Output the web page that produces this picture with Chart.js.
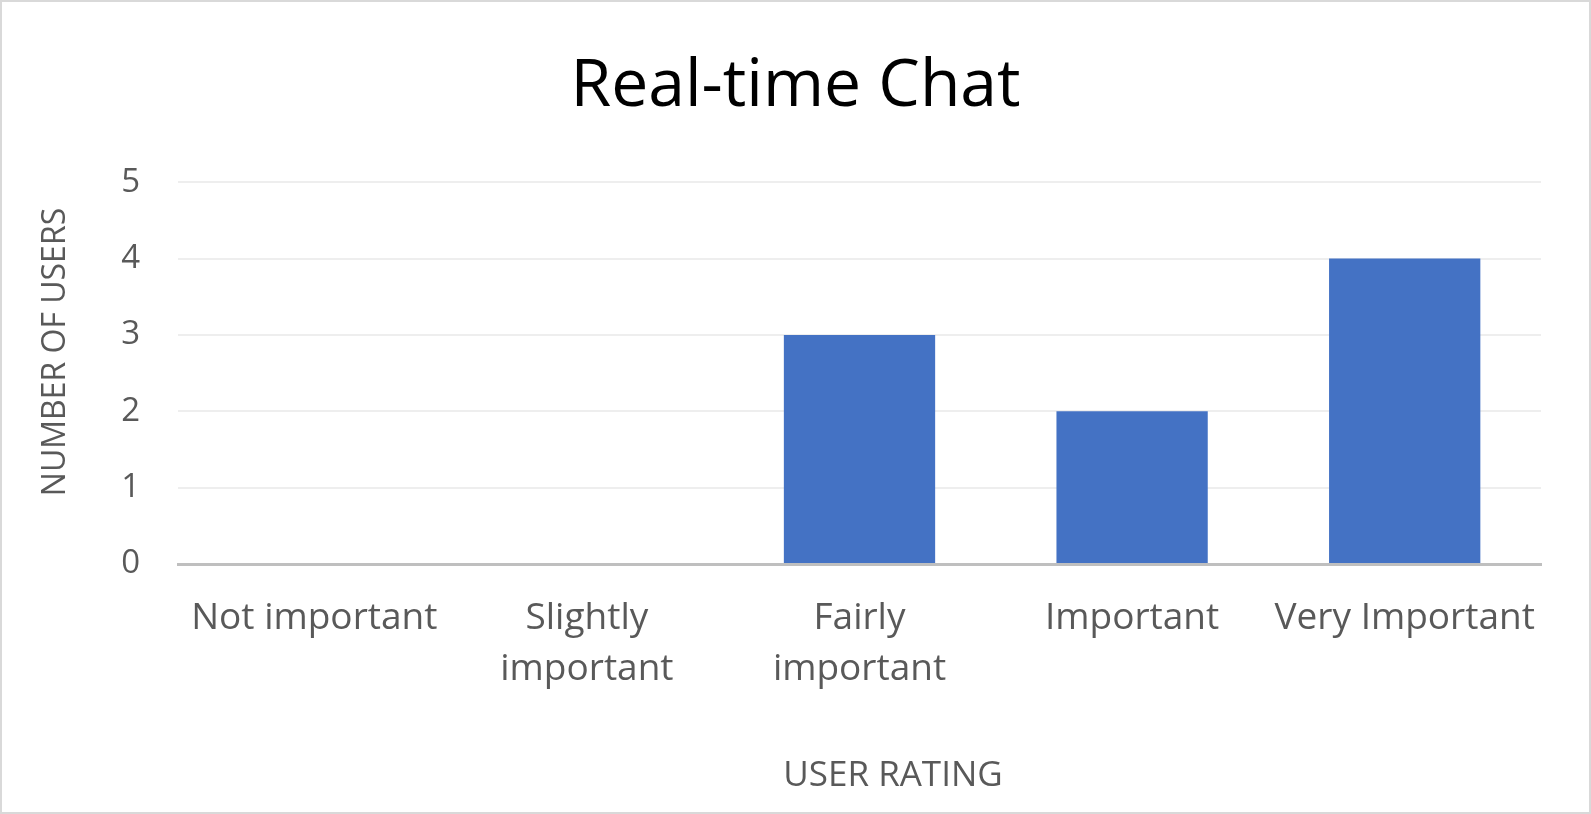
<!DOCTYPE html>
<html>
<head>
<meta charset="utf-8">
<script src="https://cdn.jsdelivr.net/npm/chart.js@4/dist/chart.umd.min.js"></script>
<style>
html,body{margin:0;padding:0;background:#fff;}
#wrap{position:relative;width:1591px;height:814px;box-sizing:border-box;border:2px solid #d9d9d9;background:#fff;}
canvas{display:block;}
</style>
</head>
<body>
<div id="wrap"><canvas id="c" width="1587" height="810"></canvas></div>
<script>
const chartTitle = 'Real-time Chat';
const categories = ['Not important', ['Slightly', 'important'], ['Fairly', 'important'], 'Important', 'Very Important'];
const userCounts = [0, 0, 3, 2, 4];
const yTicks = [0, 1, 2, 3, 4, 5];
const xAxisTitle = 'USER RATING';
const yAxisTitle = 'NUMBER OF USERS';

const FONT = "'Open Sans', 'Liberation Sans', sans-serif";
const TXT = '#595959';

// Axis titles placed as in the reference (offset from the plot centre)
const axisTitles = {
  id: 'axisTitles',
  afterDraw(chart) {
    const ctx = chart.ctx;
    ctx.save();
    ctx.fillStyle = TXT;
    ctx.textAlign = 'center';
    ctx.textBaseline = 'middle';
    ctx.font = "35px " + FONT;
    ctx.fillText(xAxisTitle, 891, 774);
    ctx.translate(54, 350);
    ctx.rotate(-Math.PI / 2);
    ctx.font = "32px " + FONT;
    ctx.fillText(yAxisTitle, 0, 0);
    ctx.restore();
  }
};

new Chart(document.getElementById('c'), {
  type: 'bar',
  data: {
    labels: categories,
    datasets: [{
      data: userCounts,
      backgroundColor: '#4472C4',
      borderWidth: 0,
      categoryPercentage: 1,
      barPercentage: 0.555
    }]
  },
  plugins: [axisTitles],
  options: {
    responsive: false,
    animation: false,
    events: [],
    layout: { padding: 0 },
    plugins: {
      legend: { display: false },
      tooltip: { enabled: false },
      title: {
        display: true,
        text: chartTitle,
        color: '#000',
        font: { family: FONT, size: 66, weight: '500', lineHeight: 1.2 },
        padding: { top: 46, bottom: 55 }
      }
    },
    scales: {
      x: {
        grid: { display: false, drawTicks: false },
        border: { display: true, color: '#bfbfbf', width: 3 },
        ticks: {
          color: TXT,
          font: { family: FONT, size: 37, lineHeight: 1.37 },
          padding: 29,
          maxRotation: 0,
          autoSkip: false
        },
        title: { display: false },
        afterFit: (s) => { s.height = 248; }
      },
      y: {
        min: 0,
        max: 5,
        afterBuildTicks: (s) => { s.ticks = yTicks.map(v => ({ value: v })); },
        grid: { color: '#eeeeee', lineWidth: 2, drawTicks: false },
        border: { display: false },
        ticks: {
          color: TXT,
          font: { family: FONT, size: 33 },
          padding: 38
        },
        title: { display: false },
        afterFit: (s) => { s.width = 176; }
      },
      yRight: {
        position: 'right',
        display: true,
        min: 0,
        max: 5,
        grid: { display: false, drawTicks: false },
        border: { display: false },
        ticks: { display: false },
        afterFit: (s) => { s.width = 48; }
      }
    }
  }
});
</script>
</body>
</html>
